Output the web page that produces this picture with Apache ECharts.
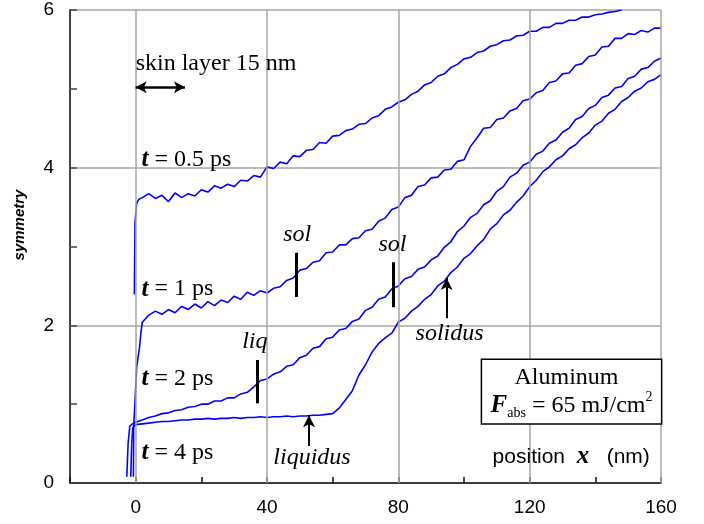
<!DOCTYPE html>
<html><head><meta charset="utf-8">
<script src="https://cdn.jsdelivr.net/npm/echarts@6/dist/echarts.min.js"></script>
<style>html,body{margin:0;padding:0;background:#fff}#c{width:704px;height:524px}</style>
</head><body><div id="c"></div>
<script>
// ---------- data (x in nm, y = symmetry) ----------
const posX = [2,4,6,8,10,12,14,16,18,20,22,24,26,28,30,32,34,36,38,40,42,44,46,48,50,52,54,56,58,60,62,64,66,68,70,72,74,76,78,80,82,84,86,88,90,92,94,96,98,100,102,104,106,108,110,112,114,116,118,120,122,124,126,128,130,132,134,136,138,140,142,144,146,148,150,152,154,156,158,160];

const t05HeadX = [-0.4,-0.2,0.3,1.0];
const t05HeadY = [2.39,3.3,3.55,3.6];
const t05Vals = [3.62,3.67,3.61,3.65,3.57,3.68,3.62,3.67,3.64,3.72,
 3.69,3.77,3.74,3.79,3.76,3.84,3.83,3.90,3.88,4.01,
 3.99,4.07,4.05,4.15,4.14,4.22,4.23,4.32,4.31,4.40,
 4.41,4.47,4.49,4.55,4.56,4.63,4.66,4.74,4.77,4.83,
 4.86,4.93,4.97,5.05,5.08,5.16,5.19,5.27,5.31,5.38,
 5.40,5.46,5.48,5.54,5.56,5.61,5.62,5.67,5.68,5.73,
 5.73,5.78,5.78,5.83,5.83,5.87,5.87,5.91,5.91,5.94,
 5.95,5.97,5.98,6.00];

const t1HeadX = [-0.7,-0.6,0.0,0.3,1.2,1.6];
const t1HeadY = [0.08,0.71,1.2,1.47,1.73,1.9];
const t1Vals = [2.04,2.13,2.18,2.14,2.20,2.16,2.24,2.20,2.27,2.22,
 2.30,2.25,2.32,2.29,2.37,2.33,2.42,2.38,2.44,2.41,
 2.47,2.49,2.57,2.60,2.70,2.72,2.80,2.82,2.92,2.93,
 3.02,3.02,3.10,3.11,3.20,3.22,3.32,3.36,3.47,3.50,
 3.62,3.65,3.76,3.78,3.87,3.88,3.97,3.98,4.08,4.10,
 4.27,4.38,4.50,4.51,4.61,4.63,4.72,4.75,4.85,4.87,
 4.95,4.98,5.08,5.10,5.19,5.20,5.30,5.32,5.41,5.43,
 5.53,5.54,5.64,5.64,5.70,5.69,5.74,5.72,5.77,5.77];

const t2HeadX = [-2.7,-2.3,-1.8,-1.0,0.0];
const t2HeadY = [0.08,0.5,0.72,0.75,0.77];
const t2Vals = [0.80,0.83,0.85,0.88,0.89,0.92,0.93,0.96,0.97,1.00,
 1.00,1.04,1.04,1.08,1.08,1.13,1.15,1.22,1.30,1.32,
 1.38,1.41,1.48,1.50,1.59,1.62,1.71,1.73,1.83,1.85,
 1.94,1.96,2.05,2.08,2.19,2.23,2.33,2.36,2.46,2.50,
 2.59,2.62,2.71,2.74,2.83,2.88,2.99,3.06,3.19,3.26,
 3.37,3.42,3.53,3.58,3.70,3.76,3.88,3.93,4.03,4.07,
 4.17,4.21,4.31,4.35,4.45,4.50,4.61,4.65,4.75,4.79,
 4.89,4.92,5.01,5.03,5.13,5.16,5.25,5.27,5.35,5.39];

const t4HeadX = [-1.5,-1.2,-0.9,0.0];
const t4HeadY = [0.08,0.5,0.7,0.74];
const t4Vals = [0.75,0.76,0.77,0.78,0.78,0.79,0.80,0.80,0.81,0.81,
 0.82,0.81,0.82,0.82,0.83,0.82,0.83,0.83,0.84,0.83,
 0.84,0.84,0.85,0.84,0.85,0.85,0.86,0.86,0.87,0.88,
 0.95,1.06,1.17,1.37,1.50,1.66,1.77,1.84,1.90,2.04,
 2.09,2.18,2.24,2.33,2.39,2.50,2.56,2.67,2.74,2.85,
 2.91,3.01,3.09,3.22,3.29,3.40,3.46,3.56,3.64,3.76,
 3.84,3.95,4.01,4.10,4.15,4.24,4.29,4.38,4.44,4.54,
 4.59,4.69,4.74,4.84,4.89,4.97,5.01,5.09,5.12,5.18];

const xTickLabels = [0,40,80,120,160];
const yTickLabels = [0,2,4,6];
const xGridValues = [0,40,80,120,160];

// annotations (data coordinates)
const timeLabels = ['0.5','1','2','4'];
const timeLabelX = [1.8,1.8,1.8,1.8];
const timeLabelY = [4.1,2.46,1.32,0.38];
const markerNames = ['sol','sol','liq'];
const markerX = [48.9,78.5,36.9];
const markerY0 = [2.36,2.23,1.01];
const markerY1 = [2.92,2.80,1.56];
const markerLabelX = [49.2,78.2,36.3];
const markerLabelY = [3.15,3.02,1.79];
const arrowNames = ['solidus','liquidus'];
const arrowX = [94.7,52.8];
const arrowY0 = [2.09,0.47];
const arrowY1 = [2.60,0.86];
const arrowLabelX = [95.6,53.7];
const arrowLabelY = [1.89,0.32];
const skinRange = [0,15];
const skinY = 5.02;
const skinLabelPos = [0,5.32];
const boxCorners = [[105.3,1.57],[160.2,0.75]];

// ---------- build ----------
function build(hx, hy, vals){
  const out = hx.map((x,i)=>[x,hy[i]]);
  vals.forEach((v,i)=>out.push([posX[i], v]));
  return out;
}
const SANS = '"Liberation Sans", Arial, sans-serif';
const SERIF = '"Liberation Serif", "Times New Roman", serif';
const FS = 24;
const curveStyle = {color:'#0000ff', width:1.6};
function curve(name, data){
  return {name, type:'line', data, showSymbol:false, symbol:'none', lineStyle:curveStyle, z:3, silent:true, clip:true};
}

const option = {
  animation:false,
  backgroundColor:'#fff',
  grid:{left:70, top:10, right:43, bottom:41, containLabel:false},
  xAxis:{type:'value', min:-20, max:160, interval:20,
    axisLine:{show:true, onZero:false, lineStyle:{color:'#111', width:1.5}},
    axisTick:{show:true, inside:true, length:6, lineStyle:{color:'#111', width:1.5}},
    axisLabel:{show:true, margin:15, color:'#000', fontFamily:SANS, fontSize:19,
      formatter:v => xTickLabels.indexOf(v) >= 0 ? String(v) : ''},
    splitLine:{show:false}},
  yAxis:{type:'value', min:0, max:6, interval:2,
    axisLine:{show:true, onZero:false, lineStyle:{color:'#444', width:2}},
    axisTick:{show:true, inside:true, length:7, lineStyle:{color:'#444', width:1.5}},
    minorTick:{show:true, splitNumber:2, length:7, lineStyle:{color:'#444', width:1.5}},
    axisLabel:{show:true, margin:16, color:'#000', fontFamily:SANS, fontSize:19,
      formatter:v => yTickLabels.indexOf(v) >= 0 ? String(v) : ''},
    splitLine:{show:true, lineStyle:{color:'#a6a6a6', width:1.5}}},
  series:[
    {name:'grid', type:'line', data:[], z:1, silent:true,
      markLine:{silent:true, symbol:['none','none'], animation:false, label:{show:false},
        lineStyle:{color:'#a6a6a6', width:1.5, type:'solid'},
        emphasis:{disabled:true},
        data: xGridValues.map(v => ({xAxis:v}))}},
    curve('t = 0.5 ps', build(t05HeadX, t05HeadY, t05Vals)),
    curve('t = 1 ps', build(t1HeadX, t1HeadY, t1Vals)),
    curve('t = 2 ps', build(t2HeadX, t2HeadY, t2Vals)),
    curve('t = 4 ps', build(t4HeadX, t4HeadY, t4Vals)),
    {name:'markers', type:'line', data:[], z:5, silent:true,
      markLine:{silent:true, symbol:['none','none'], animation:false, label:{show:false},
        lineStyle:{color:'#000', width:3, type:'solid'}, emphasis:{disabled:true},
        data: markerX.map((x,i)=>[{coord:[x,markerY0[i]]},{coord:[x,markerY1[i]]}])}},
    {name:'arrows', type:'line', data:[], z:5, silent:true,
      markLine:{silent:true, symbol:['none','arrow'], symbolSize:[9,12], animation:false, label:{show:false},
        lineStyle:{color:'#000', width:2, type:'solid'}, emphasis:{disabled:true},
        data: arrowX.map((x,i)=>[{coord:[x,arrowY0[i]]},{coord:[x,arrowY1[i]]}])}},
    {name:'skin', type:'line', data:[], z:5, silent:true,
      markLine:{silent:true, symbol:['arrow','arrow'], symbolSize:[9,11], animation:false, label:{show:false},
        lineStyle:{color:'#000', width:2.5, type:'solid'}, emphasis:{disabled:true},
        data: [[{coord:[skinRange[0],skinY]},{coord:[skinRange[1],skinY]}]]}}
  ]
};

const chart = echarts.init(document.getElementById('c'), null, {renderer:'canvas'});
chart.setOption(option);

const P = (x,y) => chart.convertToPixel({gridIndex:0},[x,y]);
const g = [];
function text(pt, txt, extra){
  g.push({type:'text', x:pt[0], y:pt[1], z:100, silent:true,
    style:Object.assign({text:txt, fill:'#000', fontFamily:SERIF, fontSize:FS,
      align:'center', verticalAlign:'middle', textAlign:'center', textVerticalAlign:'middle'}, extra||{})});
}
// y-axis name
g.push({type:'text', x:20, y:225, rotation:Math.PI/2, z:100, silent:true,
  style:{text:'symmetry', fill:'#000', fontFamily:SANS, fontSize:15, fontStyle:'italic', fontWeight:'bold',
    align:'center', verticalAlign:'middle', textAlign:'center', textVerticalAlign:'middle'}});
// skin layer
text(P(skinLabelPos[0], skinLabelPos[1]), 'skin layer 15 nm', {align:'left', textAlign:'left'});
// time labels
timeLabels.forEach((t,i)=>{
  text(P(timeLabelX[i], timeLabelY[i]), '{b|t}{n| = ' + t + ' ps}', {align:'left', textAlign:'left',
    rich:{b:{fontFamily:SERIF, fontSize:25, fontStyle:'italic', fontWeight:'bold', fill:'#000'},
          n:{fontFamily:SERIF, fontSize:FS, fill:'#000'}}});
});
markerNames.forEach((m,i)=> text(P(markerLabelX[i], markerLabelY[i]), m, {fontStyle:'italic'}));
arrowNames.forEach((m,i)=> text(P(arrowLabelX[i], arrowLabelY[i]), m, {fontStyle:'italic'}));
// box
const b0 = P(boxCorners[0][0], boxCorners[0][1]);
const b1 = P(boxCorners[1][0], boxCorners[1][1]);
g.push({type:'rect', z:90, silent:true, shape:{x:b0[0], y:b0[1], width:b1[0]-b0[0], height:b1[1]-b0[1]},
  style:{fill:'#fff', stroke:'#000', lineWidth:1.5}});
const cx = (b0[0]+b1[0])/2;
g.push({type:'text', x:cx-5, y:b0[1]+18, z:100, silent:true,
  style:{text:'Aluminum', fill:'#000', fontFamily:SERIF, fontSize:FS, align:'center', verticalAlign:'middle', textAlign:'center', textVerticalAlign:'middle'}});
g.push({type:'text', x:cx, y:b0[1]+46, z:100, silent:true,
  style:{text:'{F|F}{s|abs}{n| = 65 mJ/cm}{p|2}', fill:'#000', align:'center', verticalAlign:'middle', textAlign:'center', textVerticalAlign:'middle',
    rich:{F:{fontFamily:SERIF, fontSize:25, fontStyle:'italic', fontWeight:'bold', lineHeight:30, fill:'#000'},
          s:{fontFamily:SERIF, fontSize:14, lineHeight:14, verticalAlign:'bottom', fill:'#000'},
          n:{fontFamily:SERIF, fontSize:FS, lineHeight:30, fill:'#000'},
          p:{fontFamily:SERIF, fontSize:14, lineHeight:14, verticalAlign:'top', fill:'#000'}}}});
// axis title inside plot
const pp = P(156.6, 0.33);
g.push({type:'text', x:pp[0], y:pp[1], z:100, silent:true,
  style:{text:'{a|position  }{x|x}{a|   (nm)}', fill:'#000', align:'right', verticalAlign:'middle', textAlign:'right', textVerticalAlign:'middle',
    rich:{a:{fontFamily:SANS, fontSize:21, fill:'#000'},
          x:{fontFamily:SERIF, fontSize:25, fontStyle:'italic', fontWeight:'bold', fill:'#000'}}}});
chart.setOption({graphic:{elements:g}});
</script>
</body></html>
